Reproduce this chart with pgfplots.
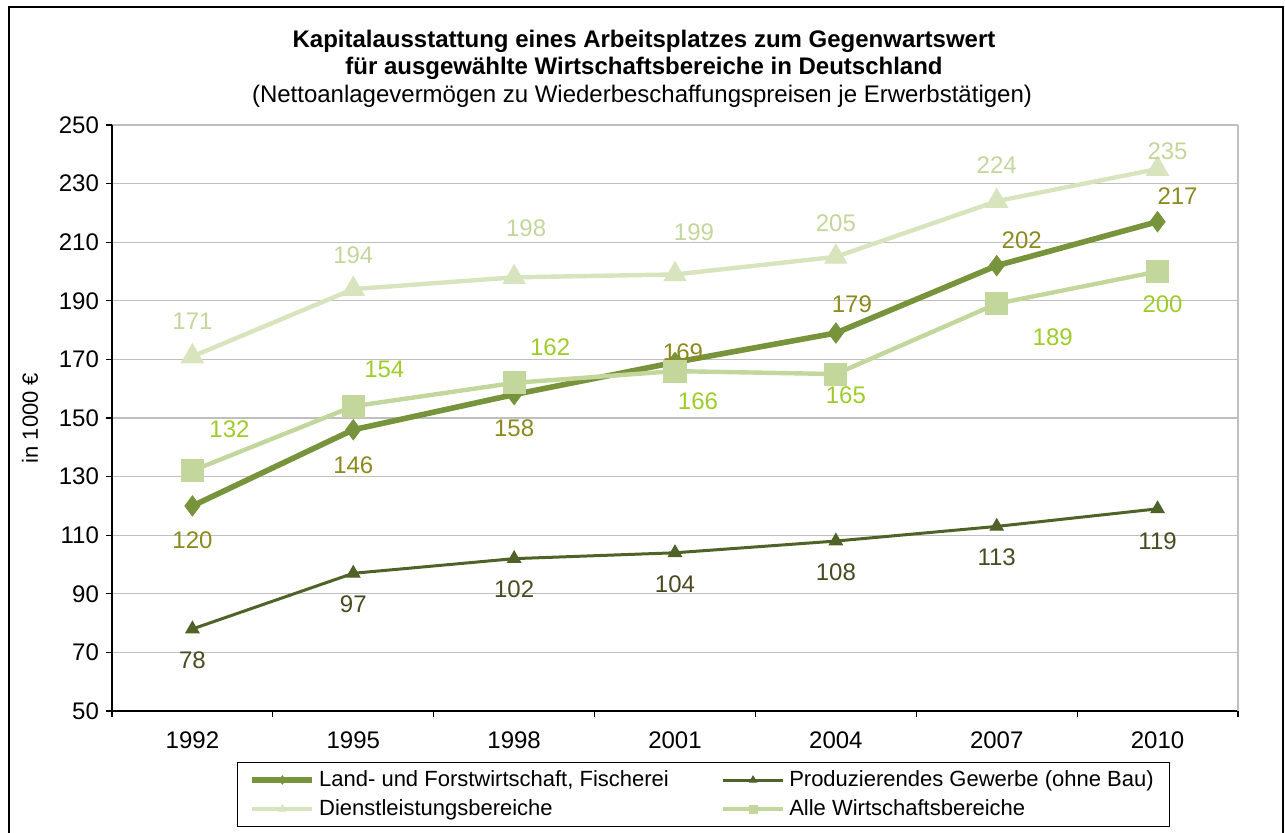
\documentclass[border=0pt]{standalone}
\usepackage{pgfplots}
\usepackage{pgfplotstable}
\pgfplotsset{compat=1.18}
\usepackage{fontspec}
\setmainfont{Liberation Sans}
\definecolor{landc}{HTML}{77933C}
\definecolor{prodc}{HTML}{4F6228}
\definecolor{dienc}{HTML}{D7E4BD}
\definecolor{allec}{HTML}{C3D69B}
\definecolor{landl}{HTML}{8A8A1E}
\definecolor{prodl}{HTML}{4A4A22}
\definecolor{dienl}{HTML}{C3D69B}
\definecolor{allel}{HTML}{9ECC2A}
\definecolor{gridc}{HTML}{BFBFBF}

\pgfplotstableread{
x y dx dy
0 120 0 -17
1 146 0 -17.6
2 158 0 -16.7
3 169 4 5
4 179 8 14.5
5 202 12.5 12.8
6 217 10 13
}\landdata
\pgfplotstableread{
x y dx dy
0 78 0 -15.5
1 97 0 -15.5
2 102 0 -15.5
3 104 0 -15.5
4 108 0 -15.5
5 113 0 -15.5
6 119 0 -16
}\proddata
\pgfplotstableread{
x y dx dy
0 171 0 17.7
1 194 0 17
2 198 6 24.5
3 199 9.5 21
4 205 0 17
5 224 0 18
6 235 5 8.7
}\diendata
\pgfplotstableread{
x y dx dy
0 132 18.5 21
1 154 15.5 18.7
2 162 18 18
3 166 11.5 -15.3
4 165 5 -10.5
5 189 28 -17
6 200 2.5 -16.3
}\alledata

\begin{document}
\begin{tikzpicture}[x=1pt,y=1pt]
\useasboundingbox (0,0) rectangle (642.5,416);
\draw[line width=1.4pt] (4.5,-5) rectangle (641.5,412.5);
\node[align=center, font=\fontsize{12}{13.5}\selectfont\bfseries] at (322,388.5)
  {Kapitalausstattung eines Arbeitsplatzes zum Gegenwartswert\\für ausgewählte Wirtschaftsbereiche in Deutschland};
\node[font=\fontsize{12}{13}\selectfont] at (321,368) {(Nettoanlagevermögen zu Wiederbeschaffungspreisen je Erwerbstätigen)};
\node[rotate=90, font=\fontsize{11}{12}\selectfont] at (15,207) {in 1000 €};
\begin{axis}[
  at={(56pt,60.5pt)}, anchor=south west,
  scale only axis, width=563pt, height=293pt,
  xmin=-0.5, xmax=6.5, ymin=50, ymax=250,
  ytick={50,70,...,250},
  xtick={0,...,6},
  xticklabels={1992,1995,1998,2001,2004,2007,2010},
  minor xtick={-0.5,0.5,...,6.5},
  major x tick style={draw=none},
  minor tick length=3pt, major tick length=3pt,
  tick align=outside,
  axis x line*=bottom, axis y line*=left,
  axis line style={black, line width=0.6pt},
  tick style={black, line width=0.6pt},
  ymajorgrids, grid style={gridc, line width=0.6pt},
  extra x ticks={6.5}, extra x tick labels={},
  extra x tick style={grid=major, major tick length=0pt},
  tick label style={font=\fontsize{12}{14}\selectfont},
  /pgf/number format/assume math mode=true,
  x tick label style={yshift=-4pt},
  clip=false,
  nodes near coords,
  every node near coord/.append style={anchor=center, font=\fontsize{12}{14}\selectfont, xshift=\dx pt, yshift=\dy pt},
  visualization depends on={\thisrow{dx} \as \dx},
  visualization depends on={\thisrow{dy} \as \dy},
  legend columns=2,
  legend cell align=left,
  legend style={at={(0.111,-0.087)}, anchor=north west, draw=black, line width=0.6pt,
    font=\fontsize{11}{13}\selectfont, row sep=1pt, inner xsep=6pt,
    /tikz/every even column/.append style={column sep=24pt}},
  legend image code/.code={\draw[mark repeat=2,mark phase=2,#1,mark size=2pt] plot coordinates {(0pt,0pt) (15pt,0pt) (30pt,0pt)};},
]
\addplot[landc, line width=2.8pt, mark=diamond*, mark size=5pt, mark options={solid, line width=0.5pt},
  every node near coord/.append style={text=landl}] table[x=x,y=y] {\landdata};
\addlegendentry{Land- und Forstwirtschaft, Fischerei}
\addplot[prodc, line width=1.5pt, mark=triangle*, mark size=3.8pt, mark options={solid, line width=0.5pt},
  every node near coord/.append style={text=prodl}] table[x=x,y=y] {\proddata};
\addlegendentry{Produzierendes Gewerbe (ohne Bau)}
\addplot[dienc, line width=2.2pt, mark=triangle*, mark size=6.3pt, mark options={solid, line width=0.5pt},
  every node near coord/.append style={text=dienl}] table[x=x,y=y] {\diendata};
\addlegendentry{Dienstleistungsbereiche}
\addplot[allec, line width=2.2pt, mark=square*, mark size=5.5pt, mark options={solid, line width=0.5pt},
  every node near coord/.append style={text=allel}] table[x=x,y=y] {\alledata};
\addlegendentry{Alle Wirtschaftsbereiche}
\end{axis}
\end{tikzpicture}
\end{document}
